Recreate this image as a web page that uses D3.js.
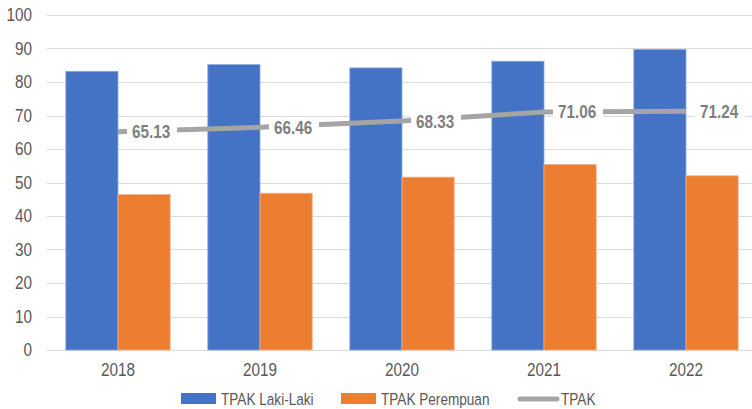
<!DOCTYPE html>
<html>
<head>
<meta charset="utf-8">
<script src="https://cdn.jsdelivr.net/npm/d3@7"></script>
<style>
  body { margin: 0; background: #fff; }
  svg { display: block; font-family: "Liberation Sans", Arial, sans-serif; }
</style>
</head>
<body>
<div id="chart"></div>
<script>
// data
var years = ["2018", "2019", "2020", "2021", "2022"];
var lakiLaki = [83.2, 85.2, 84.2, 86.2, 89.7];
var perempuan = [46.4, 46.8, 51.6, 55.4, 52.0];
var tpak = [65.13, 66.46, 68.33, 71.06, 71.24];
var yTicks = [0, 10, 20, 30, 40, 50, 60, 70, 80, 90, 100];

var width = 752, height = 409;
var margin = {top: 15, right: -5, bottom: 59, left: 47};
var squeeze = 0.85; // calibri-ish narrow text, no narrow font installed

var svg = d3.select("#chart").append("svg")
  .attr("width", width)
  .attr("height", height);

var x = d3.scaleBand()
  .domain(years)
  .range([margin.left, width - margin.right])
  .paddingInner(0.265)
  .paddingOuter(0.1325);

var xSub = d3.scaleBand()
  .domain(["laki", "perempuan"])
  .range([0, x.bandwidth()]);

var y = d3.scaleLinear()
  .domain([0, 100])
  .range([height - margin.bottom, margin.top]);

// gridlines
svg.append("g")
  .selectAll("line")
  .data(yTicks)
  .join("line")
  .attr("x1", margin.left)
  .attr("x2", width)
  .attr("y1", function(d) { return Math.round(y(d)) + 0.5; })
  .attr("y2", function(d) { return Math.round(y(d)) + 0.5; })
  .attr("stroke", "#d9d9d9")
  .attr("stroke-width", 1.2);

// y axis labels
var yAxis = d3.axisLeft(y).tickValues(yTicks).tickSize(0);
svg.append("g")
  .attr("transform", "translate(" + margin.left + ",0)")
  .call(yAxis)
  .call(function(g) { g.select(".domain").remove(); })
  .selectAll("text")
  .attr("x", -15 / squeeze)
  .attr("transform", "scale(" + squeeze + ",1)")
  .attr("fill", "#595959")
  .style("font-size", "18px");

// x axis labels
var xAxis = d3.axisBottom(x).tickSize(0).tickPadding(13);
svg.append("g")
  .attr("transform", "translate(0," + y(0) + ")")
  .call(xAxis)
  .call(function(g) { g.select(".domain").remove(); })
  .selectAll("text")
  .attr("transform", "scale(" + squeeze + ",1)")
  .attr("fill", "#595959")
  .style("font-size", "18px");

// bars
var groups = svg.append("g")
  .selectAll("g")
  .data(years)
  .join("g")
  .attr("transform", function(d) { return "translate(" + x(d) + ",0)"; });

groups.append("rect")
  .attr("x", xSub("laki"))
  .attr("width", xSub.bandwidth())
  .attr("y", function(d, i) { return y(lakiLaki[i]); })
  .attr("height", function(d, i) { return y(0) - y(lakiLaki[i]); })
  .attr("fill", "#4472c4")
  .attr("stroke", "#8faadc")
  .attr("stroke-width", 0.8);

groups.append("rect")
  .attr("x", xSub("perempuan"))
  .attr("width", xSub.bandwidth())
  .attr("y", function(d, i) { return y(perempuan[i]); })
  .attr("height", function(d, i) { return y(0) - y(perempuan[i]); })
  .attr("fill", "#ed7d31")
  .attr("stroke", "#f4b183")
  .attr("stroke-width", 0.8);

// TPAK line
var cx = function(d, i) { return x(years[i]) + x.bandwidth() / 2; };
var line = d3.line()
  .x(function(d, i) { return cx(d, i); })
  .y(function(d) { return y(d); });

svg.append("path")
  .datum(tpak)
  .attr("d", line)
  .attr("fill", "none")
  .attr("stroke", "#a5a5a5")
  .attr("stroke-width", 5);

// labels with white box, right of point
var labels = svg.append("g")
  .selectAll("g")
  .data(tpak)
  .join("g")
  .attr("transform", function(d, i) { return "translate(" + cx(d, i) + "," + y(d) + ")"; });

labels.append("rect")
  .attr("x", 9)
  .attr("y", -10)
  .attr("width", 50)
  .attr("height", 20)
  .attr("fill", "#fff");

labels.append("text")
  .attr("transform", "translate(14,0) scale(" + squeeze + ",1)")
  .attr("dy", "0.36em")
  .attr("fill", "#7f7f7f")
  .style("font-size", "18px")
  .style("font-weight", "bold")
  .text(function(d) { return d.toFixed(2); });

// legend
var legendItems = [
  {name: "TPAK Laki-Laki", color: "#4472c4", type: "rect", x: 181},
  {name: "TPAK Perempuan", color: "#ed7d31", type: "rect", x: 341},
  {name: "TPAK", color: "#a5a5a5", type: "line", x: 518}
];
var legend = svg.append("g")
  .selectAll("g")
  .data(legendItems)
  .join("g")
  .attr("transform", function(d) { return "translate(" + d.x + ",399)"; });

legend.filter(function(d) { return d.type === "rect"; })
  .append("rect")
  .attr("x", 0)
  .attr("y", -6)
  .attr("width", 35)
  .attr("height", 11)
  .attr("fill", function(d) { return d.color; });

legend.filter(function(d) { return d.type === "line"; })
  .append("line")
  .attr("x1", 2)
  .attr("x2", 39)
  .attr("stroke", function(d) { return d.color; })
  .attr("stroke-width", 5)
  .attr("stroke-linecap", "round");

legend.append("text")
  .attr("transform", function(d) { return "translate(" + (d.type === "line" ? 43 : 40) + ",0) scale(0.8,1)"; })
  .attr("dy", "0.36em")
  .attr("fill", "#595959")
  .style("font-size", "17px")
  .text(function(d) { return d.name; });
</script>
</body>
</html>
